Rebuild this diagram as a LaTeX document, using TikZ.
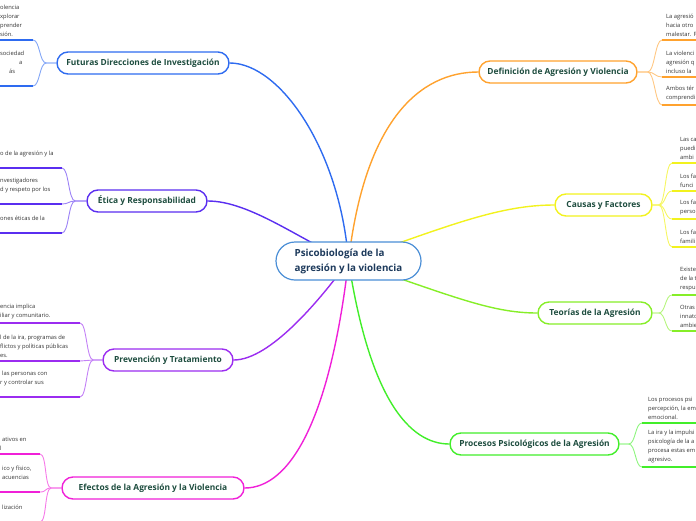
\documentclass[tikz,border=0pt]{standalone}
\usepackage{fontspec}
\setmainfont{Open Sans}
\usetikzlibrary{backgrounds}
\definecolor{cfut}{HTML}{2E6BF0}
\definecolor{ceti}{HTML}{5A2EF0}
\definecolor{cpre}{HTML}{9B2CF0}
\definecolor{cefe}{HTML}{F020D8}
\definecolor{cdef}{HTML}{FFA22E}
\definecolor{ccau}{HTML}{F2F21E}
\definecolor{cteo}{HTML}{86EE28}
\definecolor{cpro}{HTML}{42EE2A}
\definecolor{ccen}{HTML}{4A8ED6}
\definecolor{ttl}{HTML}{1E4D3F}
\definecolor{cenT}{HTML}{1D3A5C}
\definecolor{leafT}{HTML}{333333}
\newcommand{\myleaffont}{\fontsize{5.8}{9}\selectfont}
\newcommand{\mybrfont}{\fontsize{8.4}{10}\selectfont\bfseries}
\newcommand{\mycenfont}{\fontsize{9.8}{15}\selectfont\bfseries}
\begin{document}
\begin{tikzpicture}[x=1pt,y=-1pt,
  cnode/.style={draw=ccen, line width=1.2pt, fill=white, rounded corners=19pt,
    minimum width=145pt, minimum height=38pt, inner sep=0pt, align=left,
    font=\mycenfont, text=cenT},
  branch/.style={draw, line width=1.4pt, rounded corners=11pt, fill=white,
    minimum height=22pt, inner sep=0pt, font=\mybrfont, text=ttl},
  leaf/.style={anchor=south west, inner sep=0pt, align=left, font=\myleaffont, text=leafT},
  ul/.style={line width=1.7pt},
  br/.style={line width=0.9pt},
  link/.style={line width=1.4pt}]
\useasboundingbox (0,0) rectangle (696,520);
\clip (0,0) rectangle (696,520);

% central and branch nodes
\node[cnode] (c) at (348.5,261) {Psicobiología de la\\agresión y la violencia};
\node[branch, draw=cfut, minimum width=172pt] (fut) at (143,63) {Futuras Direcciones de Investigación};
\node[branch, draw=ceti, minimum width=120pt] (eti) at (147,201) {Ética y Responsabilidad};
\node[branch, draw=cpre, minimum width=130pt] (pre) at (168,360) {Prevención y Tratamiento};
\node[branch, draw=cefe, minimum width=182pt] (efe) at (153,488) {Efectos de la Agresión y la Violencia};
\node[branch, draw=cdef, minimum width=158pt] (def) at (558,72) {Definición de Agresión y Violencia};
\node[branch, draw=ccau, minimum width=97pt] (cau) at (603.5,205) {Causas y Factores};
\node[branch, draw=cteo, minimum width=114pt] (teo) at (595,313) {Teorías de la Agresión};
\node[branch, draw=cpro, minimum width=169pt] (pro) at (534.5,444) {Procesos Psicológicos de la Agresión};

% main connectors
\begin{scope}[on background layer]
\draw[link, cfut] (c.center) .. controls (340,150) and (280,63) .. (fut.east);
\draw[link, ceti] (c.center) .. controls (300,240) and (250,201) .. (eti.east);
\draw[link, cpre] (c.center) .. controls (320,300) and (270,360) .. (pre.east);
\draw[link, cefe] (c.center) .. controls (330,420) and (290,488) .. (efe.east);
\draw[link, cdef] (c.center) .. controls (365,120) and (420,72) .. (def.west);
\draw[link, ccau] (c.center) .. controls (450,225) and (500,205) .. (cau.west);
\draw[link, cteo] (c.center) .. controls (450,295) and (490,313) .. (teo.west);
\draw[link, cpro] (c.center) .. controls (370,400) and (410,444) .. (pro.west);
\end{scope}

% ---------- right: Definición ----------
\coordinate (d1) at (662,40);
\coordinate (d2) at (662,77);
\coordinate (d3) at (662,105);
\foreach \u in {d1,d2,d3}{
  \draw[br, cdef!60] (def.east) -- ++(10,0) .. controls +(7,0) and +(-7,0) .. (\u);
  \draw[ul, cdef] (\u) -- ++(40,0);
}
\node[leaf] (dt1) at (666,36.5) {La agresió\\hacia otro\\malestar. F};
\node[leaf] (dt2) at (666,73.5) {La violenci\\agresión q\\incluso la};
\node[leaf] (dt3) at (666,101.5) {Ambos tér\\comprendi};

% ---------- right: Causas ----------
\coordinate (k1) at (672,163);
\coordinate (k2) at (672,191);
\coordinate (k3) at (672,219);
\coordinate (k4) at (672,247);
\foreach \u in {k1,k2,k3,k4}{
  \draw[br, ccau!70] (cau.east) -- ++(6,0) .. controls +(7,0) and +(-7,0) .. (\u);
  \draw[ul, ccau] (\u) -- ++(30,0);
}
\node[leaf] (kt1) at (680,159.5) {Las ca\\puedi\\ambi};
\node[leaf] (kt2) at (680,187.5) {Los fa\\funci};
\node[leaf] (kt3) at (680,215.5) {Los fa\\perso};
\node[leaf] (kt4) at (680,243.5) {Los fa\\famili};

% ---------- right: Teorías ----------
\coordinate (t1) at (672,295);
\coordinate (t2) at (672,331);
\foreach \u in {t1,t2}{
  \draw[br, cteo!60] (teo.east) -- ++(6,0) .. controls +(7,0) and +(-7,0) .. (\u);
  \draw[ul, cteo] (\u) -- ++(30,0);
}
\node[leaf] (tt1) at (680,291.5) {Existe\\de la t\\respu};
\node[leaf] (tt2) at (680,327.5) {Otras\\innato\\ambie};

% ---------- right: Procesos ----------
\coordinate (p1) at (642,423);
\coordinate (p2) at (642,467);
\foreach \u in {p1,p2}{
  \draw[br, cpro!60] (pro.east) -- ++(9,0) .. controls +(7,0) and +(-7,0) .. (\u);
  \draw[ul, cpro] (\u) -- ++(60,0);
}
\node[leaf] (pt1) at (648,419.5) {Los procesos psi\\percepción, la em\\emocional.};
\node[leaf] (pt2) at (648,463.5) {La ira y la impulsi\\psicología de la a\\procesa estas em\\agresivo.};

% ---------- left: Futuras ----------
\coordinate (f1) at (33,40);
\coordinate (f2) at (33,86);
\foreach \u in {f1,f2}{
  \draw[br, cfut!60] (fut.west) -- ++(-10,0) .. controls +(-7,0) and +(7,0) .. (\u);
  \draw[ul, cfut] (\u) -- ++(-40,0);
}
\node[leaf] (ft1) at (0,36.5) {olencia\\xplorar\\prender\\sión.};
\node[leaf] (ft2) at (0,82.5) {sociedad\\\hspace*{19pt}a\\\hspace*{9pt}ás\\\mbox{}};

% ---------- left: Ética ----------
\coordinate (e1) at (62,168);
\coordinate (e2) at (62,204);
\coordinate (e3) at (62,233);
\foreach \u in {e1,e2,e3}{
  \draw[br, ceti!60] (eti.west) -- ++(-11,0) .. controls +(-7,0) and +(7,0) .. (\u);
  \draw[ul, ceti] (\u) -- ++(-70,0);
}
\node[leaf] (et1) at (0,164.5) {o de la agresión y la\\\mbox{}};
\node[leaf] (et2) at (0,200.5) {nvestigadores\\d y respeto por los\\\mbox{}};
\node[leaf] (et3) at (0,229.5) {ones éticas de la\\\mbox{}};

% ---------- left: Prevención ----------
\coordinate (v1) at (80,323);
\coordinate (v2) at (80,361);
\coordinate (v3) at (80,397);
\foreach \u in {v1,v2,v3}{
  \draw[br, cpre!60] (pre.west) -- ++(-9,0) .. controls +(-7,0) and +(7,0) .. (\u);
  \draw[ul, cpre] (\u) -- ++(-90,0);
}
\node[leaf] (vt1) at (0,319.5) {encia implica\\iliar y comunitario.};
\node[leaf] (vt2) at (0,357.5) {l de la ira, programas de\\flictos y políticas públicas\\es.};
\node[leaf] (vt3) at (0,393.5) {\hspace*{2pt}las personas con\\r y controlar sus\\\mbox{}};

% ---------- left: Efectos ----------
\coordinate (x1) at (40,454);
\coordinate (x2) at (40,492);
\coordinate (x3) at (40,522);
\foreach \u in {x1,x2,x3}{
  \draw[br, cefe!60] (efe.west) -- ++(-10,0) .. controls +(-7,0) and +(7,0) .. (\u);
  \draw[ul, cefe] (\u) -- ++(-50,0);
}
\node[leaf] (xt1) at (0,450.5) {\hspace*{2pt}ativos en\\l};
\node[leaf] (xt2) at (0,488.5) {\hspace*{2pt}ico y físico,\\\hspace*{2pt}acuencias\\\mbox{}};
\node[leaf] (xt3) at (0,518.5) {\hspace*{2pt}lización\\\mbox{}};
\end{tikzpicture}
\end{document}
